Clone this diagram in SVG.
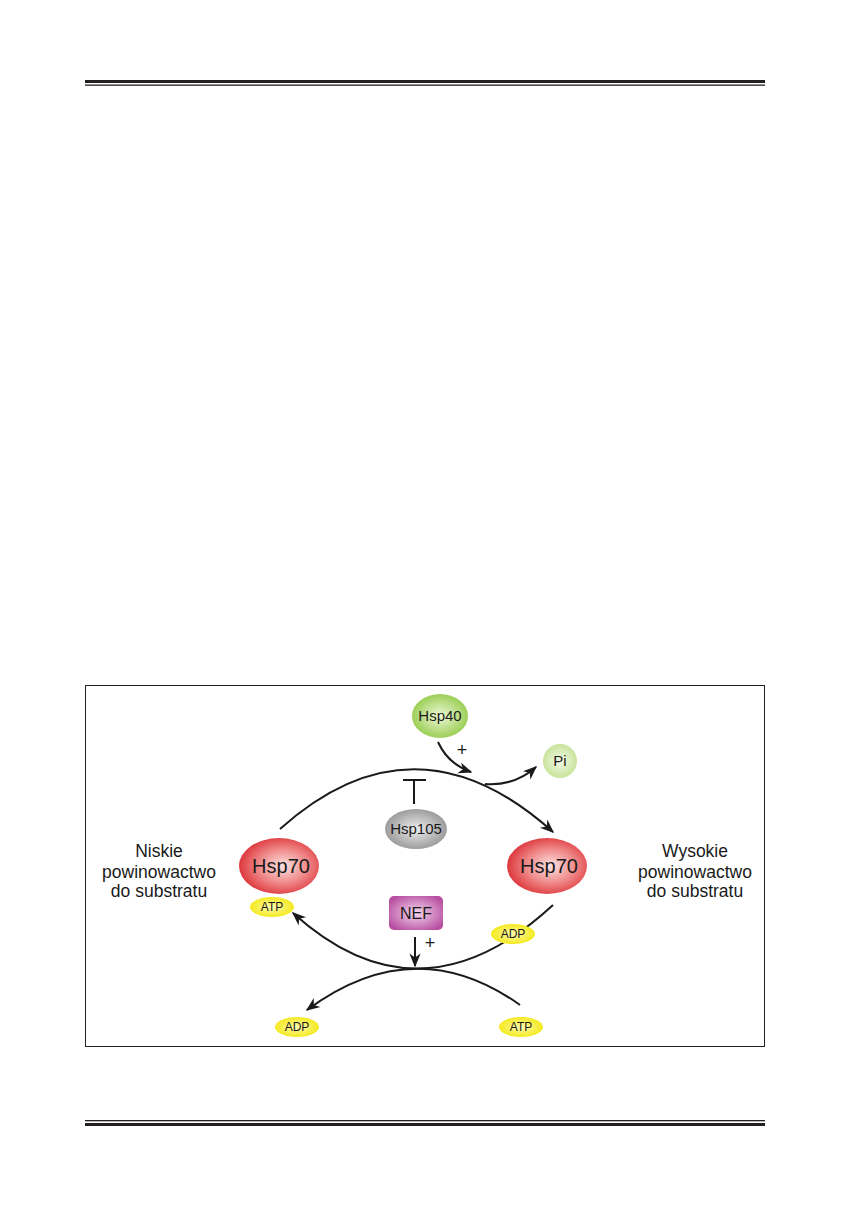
<svg xmlns="http://www.w3.org/2000/svg" width="850" height="1212" viewBox="0 0 850 1212">
<defs>
<radialGradient id="gRed" cx="0.55" cy="0.5" r="0.6"><stop offset="0" stop-color="#fde3e3"/><stop offset="0.5" stop-color="#f08a8a"/><stop offset="1" stop-color="#d9262c"/></radialGradient>
<radialGradient id="gGreen" cx="0.5" cy="0.5" r="0.6"><stop offset="0" stop-color="#eef8d6"/><stop offset="1" stop-color="#8cc63e"/></radialGradient>
<radialGradient id="gPi" cx="0.5" cy="0.5" r="0.6"><stop offset="0" stop-color="#f3fae6"/><stop offset="1" stop-color="#bfe08e"/></radialGradient>
<radialGradient id="gGray" cx="0.5" cy="0.5" r="0.6"><stop offset="0" stop-color="#eeeeee"/><stop offset="1" stop-color="#8c8c8c"/></radialGradient>
<radialGradient id="gMag" cx="0.5" cy="0.5" r="0.6"><stop offset="0" stop-color="#f6d6ee"/><stop offset="1" stop-color="#b64ea0"/></radialGradient>
<radialGradient id="gYel" cx="0.5" cy="0.5" r="0.6"><stop offset="0" stop-color="#fffbb0"/><stop offset="1" stop-color="#f2e600"/></radialGradient>
<marker id="ah" viewBox="0 0 10 10" refX="9" refY="5" markerWidth="14" markerHeight="14" markerUnits="userSpaceOnUse" orient="auto"><path d="M0,1 L10,5 L0,9 L3,5 Z" fill="#1a1a1a"/></marker>
</defs>
<style>
.t{font-family:"Liberation Sans",Arial,sans-serif;fill:#1a1a1a;text-anchor:middle}
.c{fill:none;stroke:#1a1a1a;stroke-width:2}
.rule{fill:#231f20}
</style>
<rect width="850" height="1212" fill="#ffffff"/>
<g id="rules">
<rect class="rule" x="85" y="80" width="680" height="3"/>
<rect class="rule" x="85" y="84.5" width="680" height="1.3"/>
<rect class="rule" x="85" y="1120" width="680" height="1.3"/>
<rect class="rule" x="85" y="1123" width="680" height="3"/>
</g>
<rect id="frame" x="85.5" y="685.5" width="679" height="361" fill="none" stroke="#231f20" stroke-width="1"/>
<g id="connectors">
<path class="c" d="M280,829 Q415,708 553,832" marker-end="url(#ah)"/>
<path class="c" d="M485,784 Q515,786 536,767" marker-end="url(#ah)"/>
<path class="c" d="M438,742 Q448,764 471,772" marker-end="url(#ah)"/>
<path class="c" d="M414,780 L414,804 M403,780 L426,780"/>
<path class="c" d="M553,905 Q420,1028 293,913" marker-end="url(#ah)"/>
<path class="c" d="M520,1005 Q415,930 307,1010" marker-end="url(#ah)"/>
<path class="c" d="M415,937 L415,966" marker-end="url(#ah)"/>
<text class="t" x="462" y="756" font-size="18">+</text>
<text class="t" x="430" y="949" font-size="18">+</text>
</g>
<g id="hsp40"><ellipse cx="440" cy="716" rx="28" ry="22" fill="url(#gGreen)"/><text class="t" x="440" y="721" font-size="15">Hsp40</text></g>
<g id="pi"><circle cx="560" cy="761" r="17" fill="url(#gPi)"/><text class="t" x="560" y="766" font-size="15">Pi</text></g>
<g id="hsp105"><ellipse cx="416" cy="829" rx="31" ry="20" fill="url(#gGray)"/><text class="t" x="416" y="834" font-size="15">Hsp105</text></g>
<g id="hsp70L"><ellipse cx="279" cy="866" rx="40" ry="28" fill="url(#gRed)"/><text class="t" x="281" y="873" font-size="20">Hsp70</text></g>
<g id="hsp70R"><ellipse cx="547" cy="866" rx="40" ry="28" fill="url(#gRed)"/><text class="t" x="549" y="873" font-size="20">Hsp70</text></g>
<g id="atpL"><ellipse cx="272" cy="907" rx="22" ry="10" fill="url(#gYel)"/><text class="t" x="272" y="911" font-size="12">ATP</text></g>
<g id="nef"><rect x="389" y="896" width="54" height="34" rx="5" fill="url(#gMag)"/><text class="t" x="416" y="919" font-size="16">NEF</text></g>
<g id="adpR"><ellipse cx="513" cy="934" rx="22" ry="10" fill="url(#gYel)"/><text class="t" x="513" y="938" font-size="12">ADP</text></g>
<g id="adpB"><ellipse cx="297" cy="1027" rx="22" ry="10" fill="url(#gYel)"/><text class="t" x="297" y="1031" font-size="12">ADP</text></g>
<g id="atpB"><ellipse cx="521" cy="1027" rx="22" ry="10" fill="url(#gYel)"/><text class="t" x="521" y="1031" font-size="12">ATP</text></g>
<g id="labelL"><text class="t" font-size="17.5"><tspan x="159" y="857">Niskie</tspan><tspan x="159" y="878">powinowactwo</tspan><tspan x="159" y="897">do substratu</tspan></text></g>
<g id="labelR"><text class="t" font-size="17.5"><tspan x="695" y="857">Wysokie</tspan><tspan x="695" y="878">powinowactwo</tspan><tspan x="695" y="897">do substratu</tspan></text></g>
</svg>
